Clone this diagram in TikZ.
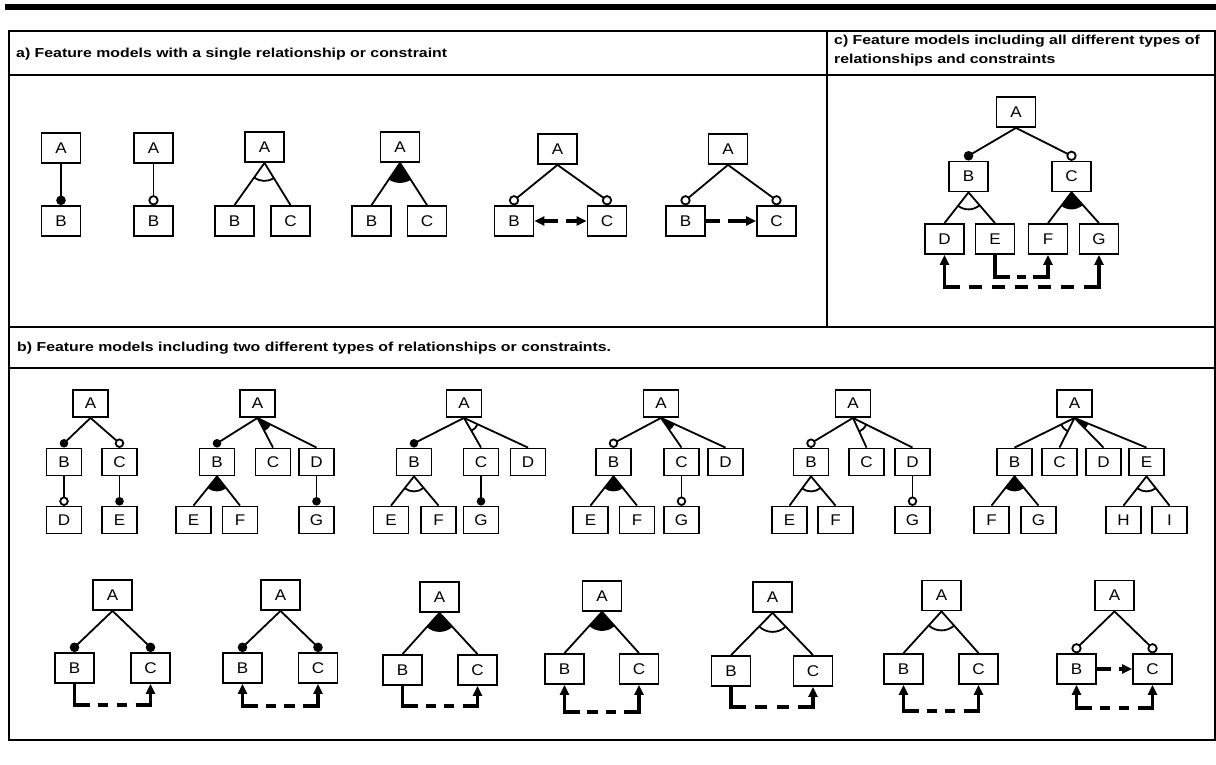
\documentclass[tikz,border=0pt]{standalone}
\usepackage{fontspec}
\setmainfont{Liberation Sans}
\newfontfamily\wideSans[FakeStretch=1.22]{Liberation Sans}
\newfontfamily\boxSans[FakeStretch=1.1]{Liberation Sans}
\usetikzlibrary{calc,arrows.meta}

\tikzset{
  x=1pt,y=1pt,
  fbox/.style={draw,line width=1.8pt,minimum width=39pt,minimum height=30pt,inner sep=0pt,
    font=\boxSans\fontsize{15.5}{15.5}\selectfont},
  sbox/.style={fbox,minimum width=35pt,minimum height=27pt},
  tree/.style={line width=1.8pt},
  cline/.style={line width=3.2pt,line join=miter},
  frame/.style={line width=2pt},
  ttl/.style={font=\wideSans\fontsize{13}{15}\selectfont\bfseries,anchor=base west,inner sep=0pt},
  ctip/.tip={Triangle[length=10pt,width=9pt]}
}

% mandatory / optional child: edge ending in a filled / open circle
\newcommand\fmman[3]{%
  \draw[tree] (#1.south) -- ($(#2.north)+(0,#3)$);
  \fill ($(#2.north)+(0,#3)$) circle[radius=#3];}
\newcommand\fmopt[3]{%
  \draw[tree] (#1.south) -- ($(#2.north)+(0,#3+0.6)$);
  \draw[tree,fill=white] ($(#2.north)+(0,#3+0.6)$) circle[radius=#3];}
% alternative group (open arc) and or group (filled sector)
\newcommand\fmalt[4]{%
  \draw[tree] (#1.south) -- (#2.north);
  \draw[tree] (#1.south) -- (#3.north);
  \draw[tree] let \p1=($(#2.north)-(#1.south)$), \p2=($(#3.north)-(#1.south)$),
      \n1={atan2(\y1,\x1)}, \n2={atan2(\y2,\x2)} in
      ($(#1.south)+(\n1:#4)$) arc[start angle=\n1,end angle=\n2,radius=#4];}
\newcommand\fmor[4]{%
  \draw[tree] (#1.south) -- (#2.north);
  \draw[tree] (#1.south) -- (#3.north);
  \fill let \p1=($(#2.north)-(#1.south)$), \p2=($(#3.north)-(#1.south)$),
      \n1={atan2(\y1,\x1)}, \n2={atan2(\y2,\x2)} in
      (#1.south) -- ($(#1.south)+(\n1:#4)$) arc[start angle=\n1,end angle=\n2,radius=#4] -- cycle;}
% cross-tree constraints routed below the boxes
\def\fmstub{15}
\newdimen\fmxa \newdimen\fmxb
\newcommand\fmmid[3]{%
  \path (0,-#3) coordinate (fmlev);
  \pgfextractx{\fmxa}{\pgfpointanchor{#1}{south}}%
  \pgfextractx{\fmxb}{\pgfpointanchor{#2}{south}}%
  \pgfmathsetmacro\fmL{\fmxb-\fmxa-2*\fmstub}%
  \pgfmathsetmacro\fmn{max(1,round((\fmL-10)/23))}%
  \pgfmathsetmacro\fmg{\fmL/(\fmn*2.3+1)}%
  \pgfmathsetmacro\fmd{1.3*\fmg}%
  \draw[cline,dash pattern=on \fmd pt off \fmg pt,dash phase=\fmd pt]
    ($(#1.south|-fmlev)+(\fmstub,0)$) -- ($(#2.south|-fmlev)+(-\fmstub,0)$);
  \draw[cline,-ctip] ($(#2.south|-fmlev)+(-\fmstub,0)$) -- (#2.south|-fmlev) -- (#2.south);}
\newcommand\fmreq[3]{\fmmid{#1}{#2}{#3}%
  \draw[cline] (#1.south) -- (#1.south|-fmlev) -- ++(\fmstub,0);}
\newcommand\fmexc[3]{\fmmid{#1}{#2}{#3}%
  \draw[cline,ctip-] (#1.south) -- (#1.south|-fmlev) -- ++(\fmstub,0);}

\begin{document}
\begin{tikzpicture}
\useasboundingbox (0,0) rectangle (1216,-765);

% frame and section rules
\fill (5,-4) rectangle (1216,-10);
\draw[frame] (9,-31) rectangle (1214.5,-740);
\draw[frame] (9,-75.5) -- (1214.5,-75.5);
\draw[frame] (9,-327) -- (1214.5,-327);
\draw[frame] (9,-368) -- (1214.5,-368);
\draw[frame] (827,-31) -- (827,-327);

\node[ttl] (ta) at (16,-57.5) {a) Feature models with a single relationship or constraint};
\node[ttl] (tc1) at (834,-44.3) {c) Feature models including all different types of};
\node[ttl] (tc2) at (834,-63.5) {relationships and constraints};
\node[ttl] (tb) at (17,-351) {b) Feature models including two different types of relationships or constraints.};

% ---- a) single relationship or constraint
\node[fbox] (a1A) at (61,-148) {A};
\node[fbox] (a1B) at (61,-221) {B};
\fmman{a1A}{a1B}{4.8}

\node[fbox] (a2A) at (153.5,-148) {A};
\node[fbox] (a2B) at (153.5,-221) {B};
\fmopt{a2A}{a2B}{4.2}

\node[fbox] (a3A) at (264.5,-147) {A};
\node[fbox] (a3B) at (234.5,-221) {B};
\node[fbox] (a3C) at (290.5,-221) {C};
\fmalt{a3A}{a3B}{a3C}{18}

\node[fbox] (a4A) at (400,-147) {A};
\node[fbox] (a4B) at (371.5,-221) {B};
\node[fbox] (a4C) at (427,-221) {C};
\fmor{a4A}{a4B}{a4C}{20}

\node[fbox] (a5A) at (557.5,-149) {A};
\node[fbox] (a5B) at (514,-221) {B};
\node[fbox] (a5C) at (607,-221) {C};
\fmopt{a5A}{a5B}{4.2}
\fmopt{a5A}{a5C}{4.2}
\draw[cline,ctip-ctip,dash pattern=on 14pt off 8pt] (a5B.east) -- (a5C.west);

\node[fbox] (a6A) at (728,-149) {A};
\node[fbox] (a6B) at (685.5,-221) {B};
\node[fbox] (a6C) at (776.5,-221) {C};
\fmopt{a6A}{a6B}{4.2}
\fmopt{a6A}{a6C}{4.2}
\draw[cline,-ctip,dash pattern=on 14pt off 8pt on 30pt] (a6B.east) -- (a6C.west);

% ---- c) all types together
\node[fbox] (cA) at (1016,-112) {A};
\node[fbox] (cB) at (968.5,-176.5) {B};
\node[fbox] (cC) at (1071.5,-176.5) {C};
\node[fbox] (cD) at (944.5,-239) {D};
\node[fbox] (cE) at (995,-239) {E};
\node[fbox] (cF) at (1048,-239) {F};
\node[fbox] (cG) at (1099,-239) {G};
\fmman{cA}{cB}{4.8}
\fmopt{cA}{cC}{4.2}
\fmalt{cB}{cD}{cE}{17}
\fmor{cC}{cF}{cG}{17}
\fmreq{cE}{cF}{277}
\fmexc{cD}{cG}{287}

% ---- b) two types, first row
\node[sbox] (b1A) at (90.5,-403.5) {A};
\node[sbox] (b1B) at (64,-462) {B};
\node[sbox] (b1C) at (119.5,-462) {C};
\node[sbox] (b1D) at (64,-520) {D};
\node[sbox] (b1E) at (119.5,-520) {E};
\fmman{b1A}{b1B}{4.3}
\fmopt{b1A}{b1C}{3.8}
\fmopt{b1B}{b1D}{3.8}
\fmman{b1C}{b1E}{4.3}

\node[sbox] (b2A) at (257.5,-403.5) {A};
\node[sbox] (b2B) at (217,-462) {B};
\node[sbox] (b2C) at (273,-462) {C};
\node[sbox] (b2D) at (316.5,-462) {D};
\node[sbox] (b2E) at (193.5,-520) {E};
\node[sbox] (b2F) at (240,-520) {F};
\node[sbox] (b2G) at (316.5,-520) {G};
\fmman{b2A}{b2B}{4.3}
\fmor{b2A}{b2C}{b2D}{15}
\fmor{b2B}{b2E}{b2F}{15}
\fmman{b2D}{b2G}{4.3}

\node[sbox] (b3A) at (464,-403.5) {A};
\node[sbox] (b3B) at (414,-462) {B};
\node[sbox] (b3C) at (481,-462) {C};
\node[sbox] (b3D) at (528,-462) {D};
\node[sbox] (b3E) at (391,-520) {E};
\node[sbox] (b3F) at (438.5,-520) {F};
\node[sbox] (b3G) at (481,-520) {G};
\fmman{b3A}{b3B}{4.3}
\fmalt{b3A}{b3C}{b3D}{15}
\fmalt{b3B}{b3E}{b3F}{15}
\fmman{b3C}{b3G}{4.3}

\node[sbox] (b4A) at (661,-403.5) {A};
\node[sbox] (b4B) at (613.5,-462) {B};
\node[sbox] (b4C) at (681.5,-462) {C};
\node[sbox] (b4D) at (725.5,-462) {D};
\node[sbox] (b4E) at (590.5,-520) {E};
\node[sbox] (b4F) at (637,-520) {F};
\node[sbox] (b4G) at (681.5,-520) {G};
\fmopt{b4A}{b4B}{3.8}
\fmor{b4A}{b4C}{b4D}{15}
\fmor{b4B}{b4E}{b4F}{15}
\fmopt{b4C}{b4G}{3.8}

\node[sbox] (b5A) at (853,-403.5) {A};
\node[sbox] (b5B) at (811,-462) {B};
\node[sbox] (b5C) at (866.5,-462) {C};
\node[sbox] (b5D) at (912.5,-462) {D};
\node[sbox] (b5E) at (789.5,-520) {E};
\node[sbox] (b5F) at (835.5,-520) {F};
\node[sbox] (b5G) at (912.5,-520) {G};
\fmopt{b5A}{b5B}{3.8}
\fmalt{b5A}{b5C}{b5D}{15}
\fmalt{b5B}{b5E}{b5F}{15}
\fmopt{b5D}{b5G}{3.8}

\node[sbox] (b6A) at (1074.5,-403.5) {A};
\node[sbox] (b6B) at (1014.5,-462) {B};
\node[sbox] (b6C) at (1059.5,-462) {C};
\node[sbox] (b6D) at (1103.5,-462) {D};
\node[sbox] (b6E) at (1146.5,-462) {E};
\node[sbox] (b6F) at (991.5,-520) {F};
\node[sbox] (b6G) at (1038.5,-520) {G};
\node[sbox] (b6H) at (1123.5,-520) {H};
\node[sbox] (b6I) at (1169.5,-520) {I};
\fmalt{b6A}{b6B}{b6C}{15}
\fmor{b6A}{b6D}{b6E}{15}
\fmor{b6B}{b6F}{b6G}{15}
\fmalt{b6E}{b6H}{b6I}{15}

% ---- b) two types, second row
\node[fbox] (r1A) at (112.5,-595) {A};
\node[fbox] (r1B) at (74.5,-668) {B};
\node[fbox] (r1C) at (150.5,-668) {C};
\fmman{r1A}{r1B}{4.8}
\fmman{r1A}{r1C}{4.8}
\fmreq{r1B}{r1C}{705}

\node[fbox] (r2A) at (280.5,-595) {A};
\node[fbox] (r2B) at (242.5,-668) {B};
\node[fbox] (r2C) at (318,-668) {C};
\fmman{r2A}{r2B}{4.8}
\fmman{r2A}{r2C}{4.8}
\fmexc{r2B}{r2C}{706}

\node[fbox] (r3A) at (439.5,-597) {A};
\node[fbox] (r3B) at (402.5,-670) {B};
\node[fbox] (r3C) at (477.5,-670) {C};
\fmor{r3A}{r3B}{r3C}{19}
\fmreq{r3B}{r3C}{706}

\node[fbox] (r4A) at (602,-596) {A};
\node[fbox] (r4B) at (564.5,-669) {B};
\node[fbox] (r4C) at (639,-669) {C};
\fmor{r4A}{r4B}{r4C}{19}
\fmexc{r4B}{r4C}{712}

\node[fbox] (r5A) at (772.5,-597) {A};
\node[fbox] (r5B) at (731,-671) {B};
\node[fbox] (r5C) at (813,-671) {C};
\fmalt{r5A}{r5B}{r5C}{19}
\fmreq{r5B}{r5C}{707}

\node[fbox] (r6A) at (941.5,-595.5) {A};
\node[fbox] (r6B) at (903.5,-669) {B};
\node[fbox] (r6C) at (978.5,-669) {C};
\fmalt{r6A}{r6B}{r6C}{19}
\fmexc{r6B}{r6C}{711}

\node[fbox] (r7A) at (1114.5,-595.5) {A};
\node[fbox] (r7B) at (1076.5,-669) {B};
\node[fbox] (r7C) at (1152.5,-669) {C};
\fmopt{r7A}{r7B}{4.2}
\fmopt{r7A}{r7C}{4.2}
\draw[cline,-ctip,dash pattern=on 14pt off 8pt on 10pt] (r7B.east) -- (r7C.west);
\fmexc{r7B}{r7C}{708}
\end{tikzpicture}
\end{document}
